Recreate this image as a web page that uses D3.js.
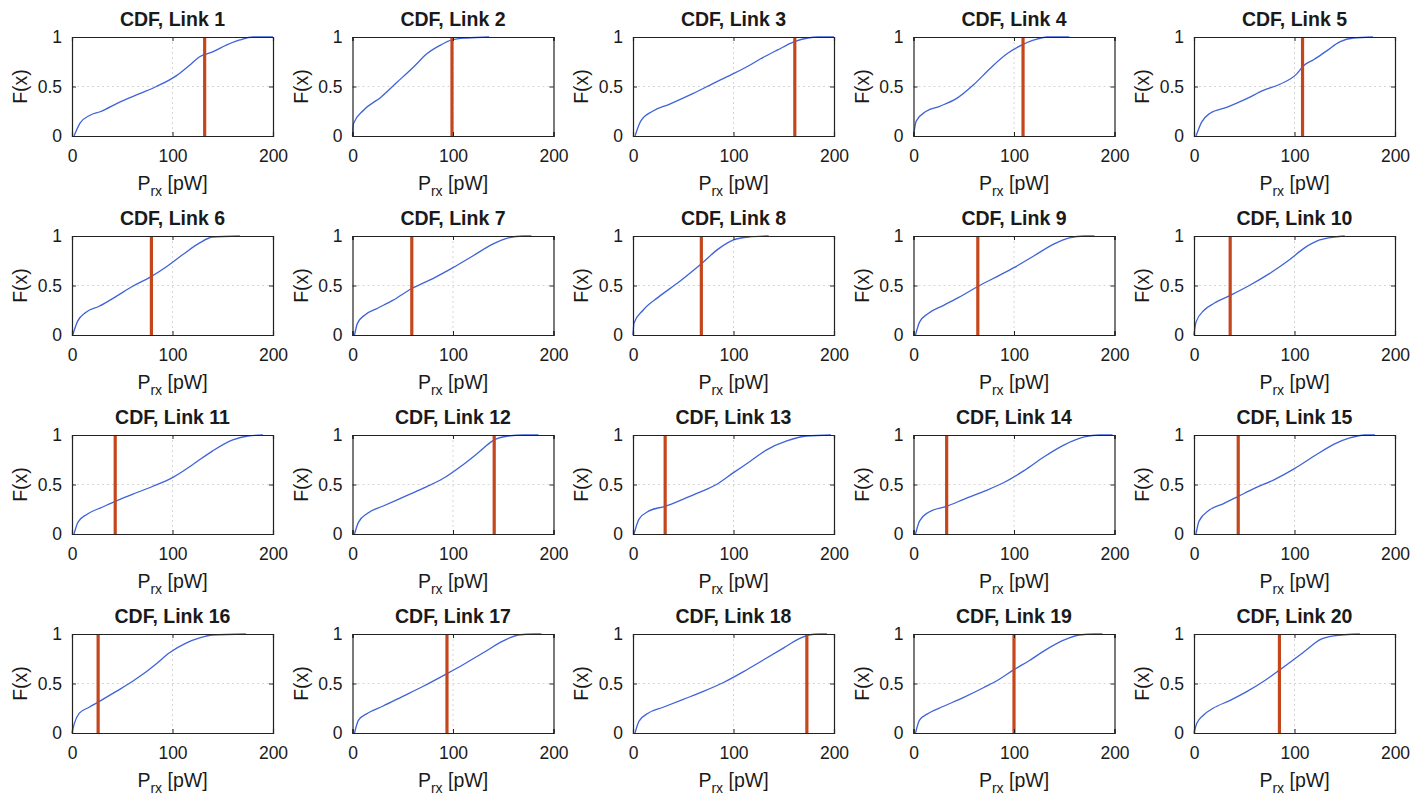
<!DOCTYPE html>
<html>
<head>
<meta charset="utf-8">
<script src="https://cdn.jsdelivr.net/npm/d3@7/dist/d3.min.js"></script>
<style>
  html, body { margin: 0; padding: 0; background: #fff; }
  svg { display: block; }
  text { font-family: "Liberation Sans", Arial, Helvetica, sans-serif; fill: #1a1a1a; }
</style>
</head>
<body>
<svg id="chart" width="1416" height="801"></svg>
<script>
// Link numbers, one panel each
const links = d3.range(1, 21);

// Vertical marker (threshold) per link, in pW
const thresholds = [132, 99, 161, 109, 108, 79, 59, 68, 64, 36,
                    43, 141, 32, 33, 44, 26, 94, 173, 100, 85];

// Empirical CDF samples per link: received power (pW) ...
const prx = [
  [2, 8, 18, 28, 48, 68, 84, 104, 117, 127, 140, 154, 167, 180, 200],
  [0, 1, 11, 28, 44, 61, 74, 88, 99, 114, 136],
  [2, 7.7, 19.5, 36, 60, 83.5, 100, 117, 127, 144, 160, 174, 184, 200],
  [0, 2.7, 12.7, 26, 43, 60, 76, 93, 108, 120, 133, 155],
  [2, 7.6, 16, 32.5, 52, 69, 86, 102, 109, 119, 132, 145, 158.5, 178],
  [0.7, 5.6, 14, 27, 44, 60, 77, 94, 110, 127, 140, 167],
  [2, 5, 12, 25, 40, 59, 80, 100, 120, 140, 155, 170, 178],
  [0, 1, 10, 25, 45, 68, 85, 100, 115, 135],
  [2, 6, 15, 30, 45, 64, 85, 100, 120, 140, 155, 170, 180],
  [0, 2, 10, 20, 36, 55, 75, 95, 110, 125, 140, 150],
  [2, 6, 15, 30, 43, 60, 80, 100, 120, 140, 160, 175, 190],
  [2, 6, 15, 30, 50, 70, 90, 110, 125, 141, 155, 170, 185],
  [1, 6, 16, 32, 49.5, 66, 83, 100, 116, 133, 153, 173, 197],
  [2, 6, 15, 33, 50, 70, 90, 110, 130, 150, 170, 185, 198],
  [2, 5, 15, 30, 44, 60, 80, 100, 120, 140, 155, 170, 180],
  [0, 2.3, 7.3, 17, 26.5, 44, 60, 70, 84, 97, 114, 127, 140, 173],
  [2, 6, 15, 30, 50, 70, 94, 110, 130, 150, 165, 180, 188],
  [2, 6, 15, 30, 50, 70, 90, 110, 130, 150, 165, 175, 185, 193],
  [2, 6, 15, 30, 50, 70, 85, 100, 115, 130, 150, 165, 180, 188],
  [0, 2.7, 9.3, 19, 36, 52, 69, 85, 99, 112, 125, 139, 165]
];

// ... and the matching cumulative probability F(x)
const cdf = [
  [0, 0.13, 0.21, 0.245, 0.345, 0.43, 0.5, 0.61, 0.715, 0.8, 0.85, 0.92, 0.97, 1, 1],
  [0, 0.125, 0.26, 0.39, 0.54, 0.7, 0.83, 0.92, 0.97, 0.99, 1],
  [0, 0.15, 0.25, 0.32, 0.43, 0.55, 0.63, 0.72, 0.78, 0.87, 0.95, 0.99, 1, 1],
  [0, 0.15, 0.25, 0.3, 0.38, 0.52, 0.68, 0.83, 0.92, 0.97, 1, 1],
  [0, 0.14, 0.23, 0.29, 0.375, 0.46, 0.525, 0.625, 0.71, 0.77, 0.86, 0.95, 0.99, 1],
  [0, 0.14, 0.23, 0.29, 0.39, 0.49, 0.58, 0.69, 0.81, 0.93, 0.99, 1],
  [0, 0.12, 0.2, 0.27, 0.35, 0.47, 0.57, 0.68, 0.8, 0.92, 0.98, 1, 1],
  [0, 0.12, 0.25, 0.38, 0.53, 0.72, 0.87, 0.96, 0.99, 1],
  [0, 0.13, 0.22, 0.3, 0.38, 0.49, 0.6, 0.68, 0.8, 0.92, 0.98, 1, 1],
  [0, 0.13, 0.25, 0.32, 0.4, 0.5, 0.62, 0.76, 0.88, 0.96, 0.99, 1],
  [0, 0.12, 0.2, 0.27, 0.33, 0.4, 0.48, 0.57, 0.7, 0.84, 0.95, 0.99, 1],
  [0, 0.12, 0.21, 0.28, 0.37, 0.46, 0.56, 0.7, 0.82, 0.95, 0.99, 1, 1],
  [0, 0.15, 0.233, 0.28, 0.35, 0.42, 0.5, 0.62, 0.73, 0.85, 0.94, 0.99, 1],
  [0, 0.13, 0.22, 0.28, 0.35, 0.43, 0.52, 0.64, 0.78, 0.9, 0.98, 1, 1],
  [0, 0.13, 0.24, 0.31, 0.38, 0.46, 0.55, 0.66, 0.79, 0.91, 0.97, 1, 1],
  [0, 0.095, 0.2, 0.26, 0.315, 0.42, 0.52, 0.59, 0.7, 0.81, 0.91, 0.96, 0.99, 1],
  [0, 0.13, 0.2, 0.27, 0.37, 0.47, 0.6, 0.69, 0.81, 0.93, 0.99, 1, 1],
  [0, 0.12, 0.2, 0.26, 0.34, 0.42, 0.51, 0.62, 0.74, 0.86, 0.95, 0.99, 1, 1],
  [0, 0.13, 0.2, 0.27, 0.36, 0.46, 0.54, 0.64, 0.73, 0.83, 0.94, 0.99, 1, 1],
  [0, 0.095, 0.18, 0.25, 0.33, 0.415, 0.52, 0.635, 0.74, 0.84, 0.94, 0.98, 1]
];

const xTicks = [0, 100, 200];
const yTicks = [0, 0.5, 1];
const yTickLabels = ["0", "0.5", "1"];

// Grid of small axes: 4 rows x 5 columns
const nCols = 5;
const axLeft0 = 72, colStep = 280.5;
const axTop0 = 37, rowStep = 199;
const axW = 201, axH = 99;

const blue = "#3f63d8";
const red = "#c4461d";

const svg = d3.select("#chart");

const x = d3.scaleLinear().domain([0, 200]).range([0, axW]);
const y = d3.scaleLinear().domain([0, 1]).range([axH, 0]);

const line = d3.line()
  .x(d => x(d[0]))
  .y(d => y(d[1]))
  .curve(d3.curveMonotoneX);

links.forEach((id, i) => {
  const col = i % nCols, row = Math.floor(i / nCols);
  const g = svg.append("g")
    .attr("transform", `translate(${axLeft0 + col * colStep},${axTop0 + row * rowStep})`);

  // grid lines
  g.append("g").selectAll("line")
    .data(xTicks.slice(1, -1)).join("line")
    .attr("x1", d => x(d)).attr("x2", d => x(d))
    .attr("y1", 0).attr("y2", axH)
    .attr("stroke", "#d6d6d6").attr("stroke-width", 1)
    .attr("stroke-dasharray", "2,3");
  g.append("g").selectAll("line")
    .data(yTicks.slice(1, -1)).join("line")
    .attr("x1", 0).attr("x2", axW)
    .attr("y1", d => y(d)).attr("y2", d => y(d))
    .attr("stroke", "#d6d6d6").attr("stroke-width", 1)
    .attr("stroke-dasharray", "2,3");

  // CDF curve
  const pts = prx[i].map((v, k) => [v, cdf[i][k]]);
  g.append("path")
    .datum(pts)
    .attr("fill", "none")
    .attr("stroke", blue)
    .attr("stroke-width", 1.3)
    .attr("d", line);

  // threshold marker
  g.append("line")
    .attr("x1", x(thresholds[i])).attr("x2", x(thresholds[i]))
    .attr("y1", y(0)).attr("y2", y(1))
    .attr("stroke", red).attr("stroke-width", 3.2);

  // axes: bottom/left with labels, top/right as box with inward ticks
  const axB = d3.axisBottom(x).tickValues(xTicks).tickSize(-4).tickPadding(14).tickFormat(d3.format("d"));
  const axT = d3.axisTop(x).tickValues(xTicks).tickSize(-4).tickFormat("");
  const axL = d3.axisLeft(y).tickValues(yTicks).tickSize(-4).tickPadding(10)
    .tickFormat((d, k) => yTickLabels[k]);
  const axR = d3.axisRight(y).tickValues(yTicks).tickSize(-4).tickFormat("");

  [[axB, `translate(0,${axH})`], [axT, null], [axL, null], [axR, `translate(${axW},0)`]]
    .forEach(([a, tr]) => {
      const ag = g.append("g").call(a);
      if (tr) ag.attr("transform", tr);
      ag.select(".domain").attr("stroke", "#222").attr("stroke-width", 1.2);
      ag.selectAll(".tick line").attr("stroke", "#222").attr("stroke-width", 1);
      ag.selectAll(".tick text")
        .style("font-family", '"Liberation Sans", Arial, sans-serif')
        .style("font-size", "17.5px").attr("fill", "#1a1a1a");
    });

  // title
  g.append("text")
    .attr("x", axW / 2).attr("y", -11)
    .attr("text-anchor", "middle")
    .style("font-size", "19.5px").style("font-weight", "bold")
    .text(`CDF, Link ${id}`);

  // y label
  g.append("text")
    .attr("transform", `translate(-45,${axH / 2}) rotate(-90)`)
    .attr("text-anchor", "middle")
    .style("font-size", "19.5px")
    .text("F(x)");

  // x label with subscript
  const xl = g.append("text")
    .attr("x", axW / 2).attr("y", axH + 54)
    .attr("text-anchor", "middle")
    .style("font-size", "19.5px");
  xl.append("tspan").text("P");
  xl.append("tspan").attr("dy", 6).style("font-size", "14px").text("rx");
  xl.append("tspan").attr("dy", -6).text(" [pW]");
});
</script>
</body>
</html>
